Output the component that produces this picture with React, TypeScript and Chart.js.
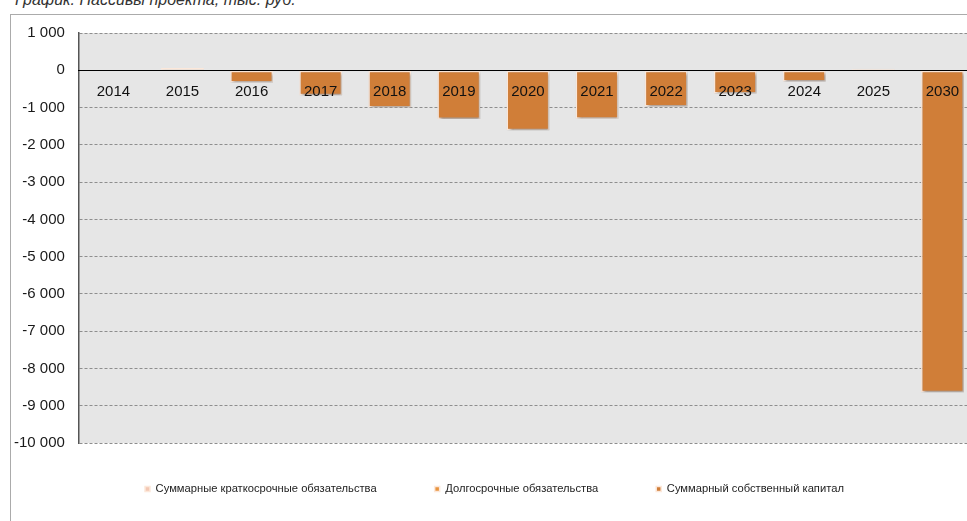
import React, { useEffect, useRef } from "react";
import { Chart, registerables } from "chart.js";

Chart.register(...registerables);

const categories = ["2014", "2015", "2016", "2017", "2018", "2019", "2020", "2021", "2022", "2023", "2024", "2025", "2030"];
const shortTermLiabilities = [0, 0, 0, 0, 0, 0, 0, 0, 0, 0, 0, 0, 0];
const longTermLiabilities = [0, 0, 0, 0, 0, 0, 0, 0, 0, 0, 0, 0, 0];
const totalEquity = [0, 60, -330, -670, -1000, -1310, -1610, -1300, -970, -625, -300, 40, -8640];
const seriesNames = [
  "Суммарные краткосрочные обязательства",
  "Долгосрочные обязательства",
  "Суммарный собственный капитал",
];
const seriesColors = ["#F3C7B3", "#E8943F", "#D07E38"];
const yMin = -10000;
const yMax = 1000;
const yStep = 1000;
const titleText = "График. Пассивы проекта, тыс. руб.";

const FONT = "'Liberation Sans', Arial, sans-serif";
const LEGEND_FONT_SIZE = 11.2;
const LEGEND_X0 = 145;
const LEGEND_GAP = 58;
const LEGEND_Y = 489;

function fmt(v: number): string {
  const s = String(Math.abs(v)).replace(/\B(?=(\d{3})+(?!\d))/g, " ");
  return (v < 0 ? "-" : "") + s;
}

const bgPlugin = {
  id: "plotBg",
  beforeDraw(chart: any) {
    const { ctx, chartArea } = chart;
    if (!chartArea) return;
    ctx.save();
    ctx.fillStyle = "#E6E6E6";
    ctx.fillRect(chartArea.left, chartArea.top, chartArea.right - chartArea.left, chartArea.bottom - chartArea.top);
    ctx.restore();
  },
};

const shadowPlugin = {
  id: "barShadow",
  beforeDatasetsDraw(chart: any) {
    const ctx = chart.ctx;
    ctx.save();
    ctx.shadowColor = "rgba(0,0,0,0.35)";
    ctx.shadowBlur = 3;
    ctx.shadowOffsetX = 1.5;
    ctx.shadowOffsetY = 2;
  },
  afterDatasetsDraw(chart: any) {
    chart.ctx.restore();
  },
};

const legendPosPlugin = {
  id: "legendPos",
  afterLayout(chart: any) {
    const lg = chart.legend;
    if (!lg) return;
    const pad = lg.options.labels.padding;
    lg.left = LEGEND_X0 - pad;
    lg.right = 5000;
    lg.top = LEGEND_Y - LEGEND_FONT_SIZE / 2 - pad;
    lg.bottom = 521;
    lg.width = lg.right - lg.left;
    lg.height = lg.bottom - lg.top;
  },
};

export default function App() {
  const ref = useRef<HTMLCanvasElement | null>(null);

  useEffect(() => {
    if (!ref.current) return;
    const datasets = [shortTermLiabilities, longTermLiabilities, totalEquity].map((data, i) => ({
      label: seriesNames[i],
      data,
      backgroundColor: seriesColors[i],
      borderColor: "#FCE8DA",
      borderWidth: 1.5,
      borderSkipped: false as any,
      barPercentage: 0.62,
      categoryPercentage: 1.0,
    }));
    const chart = new Chart(ref.current, {
      type: "bar",
      data: { labels: categories, datasets },
      plugins: [bgPlugin, shadowPlugin, legendPosPlugin],
      options: {
        animation: false,
        responsive: false,
        maintainAspectRatio: false,
        layout: { padding: { left: 0, right: 0, top: 33, bottom: 38 } },
        plugins: {
          title: { display: false },
          tooltip: { enabled: false },
          legend: {
            display: true,
            position: "bottom",
            align: "start",
            maxHeight: 40,
            labels: {
              boxWidth: 5,
              boxHeight: 5,
              padding: LEGEND_GAP,
              color: "#222",
              font: { family: FONT, size: LEGEND_FONT_SIZE },
            },
          },
        },
        scales: {
          x: {
            type: "category",
            stacked: true,
            position: { y: 0 } as any,
            grid: { display: false, drawTicks: false },
            border: { display: true, color: "#000", width: 1, z: 1 } as any,
            ticks: {
              color: "#111",
              font: { family: FONT, size: 15 },
              padding: 13,
              autoSkip: false,
              maxRotation: 0,
              z: 1,
            },
          },
          y: {
            stacked: true,
            min: yMin,
            max: yMax,
            grid: { color: "#8E8E8E", lineWidth: 1, drawTicks: false },
            border: { display: true, color: "#555", width: 1.5, dash: [3, 2] as any },
            ticks: {
              stepSize: yStep,
              color: "#1A1A1A",
              font: { family: FONT, size: 15 },
              padding: 14,
              callback: (v: any) => fmt(Number(v)),
            },
          },
        },
      },
    });
    return () => chart.destroy();
  }, []);

  return (
    <div style={{ position: "fixed", left: 0, top: 0, width: 967, height: 521, overflow: "hidden", background: "#fff" }}>
      <div
        style={{
          position: "absolute",
          left: 10,
          top: 14,
          width: 1100,
          height: 700,
          borderLeft: "1.5px solid #ABABAB",
          borderTop: "1.5px solid #ABABAB",
        }}
      />
      <div
        style={{
          position: "absolute",
          left: 15,
          top: -9,
          fontFamily: FONT,
          fontStyle: "italic",
          fontSize: 16,
          color: "#333",
          whiteSpace: "nowrap",
        }}
      >
        {titleText}
      </div>
      <canvas ref={ref} width={977} height={521} style={{ position: "absolute", left: 0, top: 0 }} />
    </div>
  );
}
